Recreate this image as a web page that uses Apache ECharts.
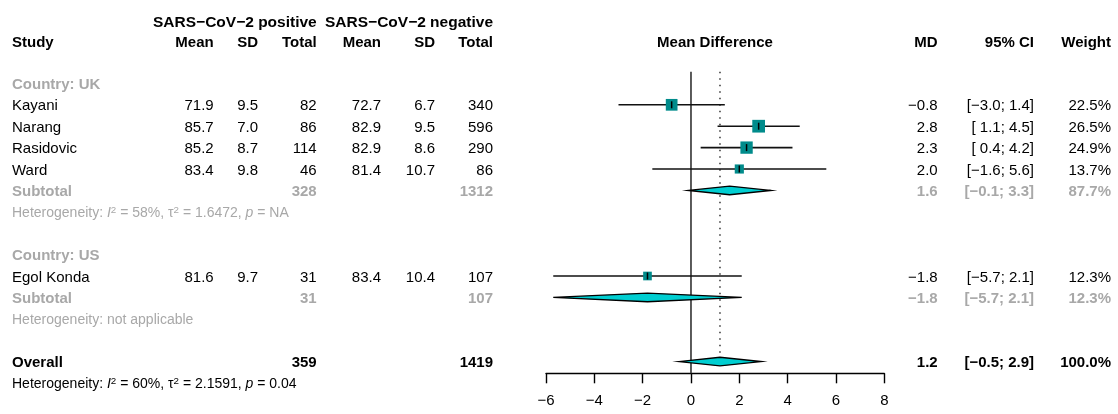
<!DOCTYPE html>
<html><head><meta charset="utf-8">
<script src="https://cdn.jsdelivr.net/npm/echarts@6/dist/echarts.min.js"></script>
<style>html,body{margin:0;padding:0;background:#fff}#chart{width:1118px;height:414px}</style>
</head><body><div id="chart"></div>
<script>
// ---------------- DATA ----------------
const studies   = ['Kayani', 'Narang', 'Rasidovic', 'Ward', 'Egol Konda'];
const country   = ['UK', 'UK', 'UK', 'UK', 'US'];
const meanPos   = [71.9, 85.7, 85.2, 83.4, 81.6];
const sdPos     = [9.5, 7.0, 8.7, 9.8, 9.7];
const totalPos  = [82, 86, 114, 46, 31];
const meanNeg   = [72.7, 82.9, 82.9, 81.4, 83.4];
const sdNeg     = [6.7, 9.5, 8.6, 10.7, 10.4];
const totalNeg  = [340, 596, 290, 86, 107];
const md        = [-0.8, 2.8, 2.3, 2.0, -1.8];
const ciLow     = [-3.0, 1.1, 0.4, -1.6, -5.7];
const ciHigh    = [1.4, 4.5, 4.2, 5.6, 2.1];
const weight    = [22.5, 26.5, 24.9, 13.7, 12.3];

const groups        = ['UK', 'US'];
const groupTotalPos = [328, 31];
const groupTotalNeg = [1312, 107];
const groupMd       = [1.6, -1.8];
const groupLow      = [-0.1, -5.7];
const groupHigh     = [3.3, 2.1];
const groupWeight   = [87.7, 12.3];
const groupI2       = ['58%', null];
const groupTau2     = ['1.6472', null];
const groupP        = ['NA', null];

const overallTotalPos = 359, overallTotalNeg = 1419;
const overallMd = 1.2, overallLow = -0.5, overallHigh = 2.9, overallWeight = 100.0;
const overallI2 = '60%', overallTau2 = '2.1591', overallP = '0.04';

const xTickValues = [-6, -4, -2, 0, 2, 4, 6, 8];
const nullEffect = 0;

// ---------------- LAYOUT ----------------
const W = 1118, H = 414;
const ROW0_Y = 83.4, ROW_H = 21.4, TEXT_DY = 1.5;
const rowAt = y => (y - ROW0_Y) / ROW_H;
const COL = { study: 12, meanPos: 213.7, sdPos: 258, nPos: 316.7, meanNeg: 381, sdNeg: 435, nNeg: 493,
              forest: 715, md: 937.7, ci: 1034, w: 1111 };
const PLOT = { left: 546, right: 884.3, top: 71.7, axisY: 373.3 };
const FONT = "'Liberation Sans', Arial, Helvetica, sans-serif";
const FS = 15, FS_HET = 14;
const BLACK = '#000', GREY = '#a8a8a8';
const SQ_COLOR = '#008b8b', DIA_COLOR = '#00ced1';

const fmt1 = v => v.toFixed(1).replace('-', '\u2212');
const fmtCI = (lo, hi) => '[' + (lo >= 0 ? ' ' : '') + fmt1(lo) + '; ' + fmt1(hi) + ']';
const fmtW = v => v.toFixed(1) + '%';

// ---------------- BUILD TABLE ----------------
const cells = [];
function cell(x, row, text, opt) { cells.push(Object.assign({ x, row, text, align: 'right', bold: false, color: BLACK, size: FS }, opt || {})); }
function hetText(i2, tau2, p) {
  if (i2 === null) return 'Heterogeneity: not applicable';
  return '{a|Heterogeneity: }{i|I}{s|2}{a| = ' + i2 + ', \u03c4}{s|2}{a| = ' + tau2 + ', }{i|p}{a| = ' + p + '}';
}
const HR1 = -2.9, HR2 = -1.95;
cell(COL.nPos, HR1, 'SARS\u2212CoV\u22122 positive', { bold: true, size: 15.5 });
cell(COL.nNeg, HR1, 'SARS\u2212CoV\u22122 negative', { bold: true, size: 15.5 });
cell(COL.study, HR2, 'Study', { bold: true, align: 'left' });
[['meanPos', 'Mean'], ['sdPos', 'SD'], ['nPos', 'Total'], ['meanNeg', 'Mean'], ['sdNeg', 'SD'], ['nNeg', 'Total'],
 ['md', 'MD'], ['ci', '95% CI'], ['w', 'Weight']].forEach(([k, t]) => cell(COL[k], HR2, t, { bold: true }));
cell(COL.forest, HR2, 'Mean Difference', { bold: true, align: 'center' });

const studyMarks = [], diamonds = [];
let r = 0;
groups.forEach((g, gi) => {
  cell(COL.study, r, 'Country: ' + g, { bold: true, color: GREY, align: 'left' });
  r++;
  studies.forEach((s, i) => {
    if (country[i] !== g) return;
    cell(COL.study, r, s, { align: 'left' });
    cell(COL.meanPos, r, fmt1(meanPos[i])); cell(COL.sdPos, r, fmt1(sdPos[i])); cell(COL.nPos, r, String(totalPos[i]));
    cell(COL.meanNeg, r, fmt1(meanNeg[i])); cell(COL.sdNeg, r, fmt1(sdNeg[i])); cell(COL.nNeg, r, String(totalNeg[i]));
    cell(COL.md, r, fmt1(md[i])); cell(COL.ci, r, fmtCI(ciLow[i], ciHigh[i])); cell(COL.w, r, fmtW(weight[i]));
    studyMarks.push([md[i], r, ciLow[i], ciHigh[i], weight[i]]);
    r++;
  });
  const go = { bold: true, color: GREY };
  cell(COL.study, r, 'Subtotal', Object.assign({ align: 'left' }, go));
  cell(COL.nPos, r, String(groupTotalPos[gi]), go); cell(COL.nNeg, r, String(groupTotalNeg[gi]), go);
  cell(COL.md, r, fmt1(groupMd[gi]), go); cell(COL.ci, r, fmtCI(groupLow[gi], groupHigh[gi]), go);
  cell(COL.w, r, fmtW(groupWeight[gi]), go);
  diamonds.push([groupMd[gi], r, groupLow[gi], groupHigh[gi]]);
  r++;
  cell(COL.study, r, hetText(groupI2[gi], groupTau2[gi], groupP[gi]), { align: 'left', color: GREY, size: FS_HET, rich: true });
  r += 2;
});
const overallRow = r;
cell(COL.study, r, 'Overall', { bold: true, align: 'left' });
cell(COL.nPos, r, String(overallTotalPos), { bold: true }); cell(COL.nNeg, r, String(overallTotalNeg), { bold: true });
cell(COL.md, r, fmt1(overallMd), { bold: true }); cell(COL.ci, r, fmtCI(overallLow, overallHigh), { bold: true });
cell(COL.w, r, fmtW(overallWeight), { bold: true });
diamonds.push([overallMd, r, overallLow, overallHigh]);
r++;
cell(COL.study, r, hetText(overallI2, overallTau2, overallP), { align: 'left', color: BLACK, size: FS_HET, rich: true });

// ---------------- CHART ----------------
const chart = echarts.init(document.getElementById('chart'), null, { renderer: 'canvas' });
const topRow = rowAt(PLOT.top), axisRow = rowAt(PLOT.axisY);

function richStyles(c) {
  const base = { fontFamily: FONT, fontSize: c.size, fill: c.color, lineHeight: 16 };
  return {
    a: Object.assign({}, base),
    i: Object.assign({}, base, { fontStyle: 'italic' }),
    s: Object.assign({}, base, { fontSize: c.size * 0.7, lineHeight: 8, verticalAlign: 'top' })
  };
}

const option = {
  animation: false,
  backgroundColor: '#fff',
  grid: [
    { left: 0, top: 0, width: W, height: H },
    { left: PLOT.left, top: PLOT.top, width: PLOT.right - PLOT.left, height: PLOT.axisY - PLOT.top }
  ],
  xAxis: [
    { gridIndex: 0, type: 'value', min: 0, max: W, show: false },
    { gridIndex: 1, type: 'value', min: xTickValues[0], max: xTickValues[xTickValues.length - 1],
      interval: xTickValues[1] - xTickValues[0],
      axisLine: { show: true, onZero: false, lineStyle: { color: '#000', width: 1.4 } },
      axisTick: { show: true, length: 10, lineStyle: { color: '#000', width: 1.4 } },
      axisLabel: { fontSize: 15, fontFamily: FONT, color: '#000', margin: 20,
                   formatter: v => String(v).replace('-', '\u2212') },
      splitLine: { show: false } }
  ],
  yAxis: [
    { gridIndex: 0, type: 'value', min: rowAt(0), max: rowAt(H), inverse: true, show: false },
    { gridIndex: 1, type: 'value', min: topRow, max: axisRow, inverse: true, show: false }
  ],
  series: [
    { // null-effect line
      type: 'line', xAxisIndex: 1, yAxisIndex: 1, data: [[nullEffect, topRow], [nullEffect, axisRow]],
      symbol: 'none', silent: true, z: 1, lineStyle: { color: '#333', width: 1.6 } },
    { // overall estimate dotted line
      type: 'line', xAxisIndex: 1, yAxisIndex: 1, data: [[overallMd, topRow], [overallMd, overallRow]],
      symbol: 'none', silent: true, z: 1, lineStyle: { color: '#000', width: 1.2, type: [1.5, 5] } },
    { // studies
      type: 'custom', xAxisIndex: 1, yAxisIndex: 1, z: 3, clip: false,
      data: studyMarks, encode: { x: [0, 2, 3], y: 1 },
      renderItem: (params, api) => {
        const c = api.coord([api.value(0), api.value(1)]);
        const lo = api.coord([api.value(2), api.value(1)]);
        const hi = api.coord([api.value(3), api.value(1)]);
        const s = Math.sqrt(api.value(4)) * 2.47;
        return { type: 'group', children: [
          { type: 'line', shape: { x1: lo[0], y1: lo[1], x2: hi[0], y2: hi[1] }, style: { stroke: '#111', lineWidth: 1.6 } },
          { type: 'rect', shape: { x: c[0] - s / 2, y: c[1] - s / 2, width: s, height: s }, style: { fill: SQ_COLOR } },
          { type: 'line', shape: { x1: c[0], y1: c[1] - 3.5, x2: c[0], y2: c[1] + 3.5 }, style: { stroke: '#000', lineWidth: 1.5 } }
        ] };
      } },
    { // diamonds
      type: 'custom', xAxisIndex: 1, yAxisIndex: 1, z: 3, clip: false,
      data: diamonds, encode: { x: [0, 2, 3], y: 1 },
      renderItem: (params, api) => {
        const c = api.coord([api.value(0), api.value(1)]);
        const lo = api.coord([api.value(2), api.value(1)]);
        const hi = api.coord([api.value(3), api.value(1)]);
        const h = 4.3;
        return { type: 'polygon', shape: { points: [[lo[0], lo[1]], [c[0], c[1] - h], [hi[0], hi[1]], [c[0], c[1] + h]] },
                 style: { fill: DIA_COLOR, stroke: '#000', lineWidth: 1.4 } };
      } },
    { // table text
      type: 'custom', xAxisIndex: 0, yAxisIndex: 0, z: 5, clip: false, silent: true,
      data: cells.map((c, i) => [c.x, c.row, i]),
      renderItem: (params, api) => {
        const c = cells[params.dataIndex];
        const p = api.coord([c.x, c.row]);
        const style = { text: c.text, fill: c.color, fontFamily: FONT, fontSize: c.size,
                        fontWeight: c.bold ? 'bold' : 'normal', align: c.align, verticalAlign: 'middle' };
        if (c.rich) style.rich = richStyles(c);
        return { type: 'text', x: p[0], y: p[1] + TEXT_DY, style };
      } }
  ]
};
chart.setOption(option);
</script></body></html>
